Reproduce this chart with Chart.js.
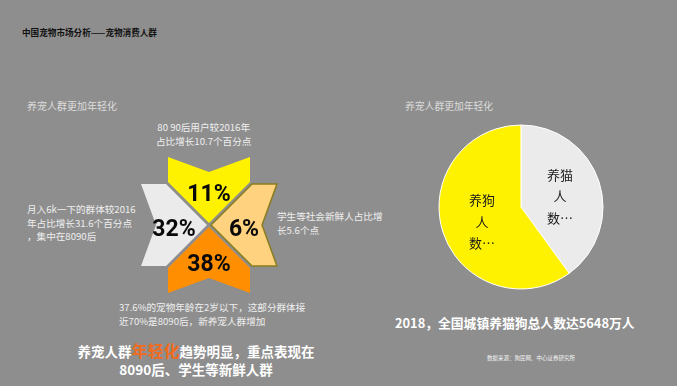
<!DOCTYPE html>
<html>
<head>
<meta charset="utf-8">
<script src="https://cdn.jsdelivr.net/npm/chart.js@4/dist/chart.umd.min.js"></script>
<style>
  body { margin: 0; }
  #page {
    position: relative; width: 677px; height: 386px; overflow: hidden;
    background: #8e8e8e; font-family: "Noto Sans CJK SC", "Noto Sans", sans-serif;
  }
  .t { position: absolute; white-space: pre; color: #eeeeee; }
  canvas { position: absolute; }
</style>
</head>
<body>
<div id="page">
  <div class="t" style="left:22px;top:26px;font-size:8.6px;font-weight:bold;color:#111;">中国宠物市场分析——宠物消费人群</div>
  <div class="t" style="left:27px;top:98px;font-size:10px;color:#dcdcdc;">养宠人群更加年轻化</div>
  <div class="t" style="left:405px;top:99px;font-size:9.8px;color:#dcdcdc;">养宠人群更加年轻化</div>

  <div class="t" style="left:156px;top:120px;font-size:9.6px;line-height:14px;text-align:center;">80 90后用户较2016年
占比增长10.7个百分点</div>
  <div class="t" style="left:27px;top:203px;font-size:9.6px;line-height:13.5px;">月入6k一下的群体较2016
年占比增长31.6个百分点
，集中在8090后</div>
  <div class="t" style="left:277px;top:209px;font-size:9.6px;line-height:14px;">学生等社会新鲜人占比增
长5.6个点</div>
  <div class="t" style="left:119px;top:300px;font-size:9.6px;line-height:14px;">37.6%的宠物年龄在2岁以下，这部分群体接
近70%是8090后，新养宠人群增加</div>

  <div class="t" style="left:60px;top:341px;width:272px;font-size:13.5px;line-height:18px;font-weight:bold;color:#fff;text-align:center;">养宠人群<span style="color:#f26b1d;font-size:16px;">年轻化</span>趋势明显，重点表现在
8090后、学生等新鲜人群</div>

  <div class="t" style="left:395px;top:313px;font-size:12.8px;font-weight:bold;color:#fff;">2018，全国城镇养猫狗总人数达5648万人</div>
  <div class="t" style="left:487px;top:354px;font-size:5.5px;color:#f4f4f4;">数据来源：狗民网、中心证券研究所</div>

  <canvas id="starChart" width="200" height="200" style="left:109px;top:125px;"></canvas>
  <canvas id="pieChart" width="200" height="200" style="left:421px;top:107px;"></canvas>
</div>
<script>
// 四个方向的人群占比（箭头图）
const starGroups = ["80 90后", "学生等社会新鲜人", "2岁以下宠物", "月入6k以下"];
const starShares = [11, 6, 38, 32];
const starColors = ["#fff200", "#ffd27f", "#ff8f00", "#ebebeb"];
const starBorders = [null, "#8a7d1e", null, null];
const starAngles = [0, 90, 180, 270]; // 箭头指向中心

// 养猫 / 养狗 人数占比（估读）
const pieLabels = ["养猫人数", "养狗人数"];
const pieShares = [40, 60];
const pieColors = ["#ebebeb", "#fff200"];

function arrowGlyph(fill, stroke) {
    const w = 82, h = 66, pad = 2;
    const c = document.createElement("canvas");
    c.width = w + pad * 2;
    c.height = h + pad * 2;
    const g = c.getContext("2d");
    g.translate(pad, pad);
    g.beginPath();
    g.moveTo(0, 0);
    g.lineTo(w / 2, 15);
    g.lineTo(w, 0);
    g.lineTo(w, 25);
    g.lineTo(w / 2, h);
    g.lineTo(0, 25);
    g.closePath();
    g.fillStyle = fill;
    g.fill();
    if (stroke) {
        g.strokeStyle = stroke;
        g.lineWidth = 1.5;
        g.stroke();
    }
    return c;
}

const starPoints = starAngles.map((a) => {
    const r = (a * Math.PI) / 180;
    return { x: 35 * Math.sin(r), y: 35 * Math.cos(r) };
});

const shareLabels = {
    id: "shareLabels",
    afterDatasetsDraw(chart) {
        const ctx = chart.ctx;
        const meta = chart.getDatasetMeta(0);
        ctx.save();
        ctx.font = "bold 23px Roboto, 'DejaVu Sans', sans-serif";
        ctx.fillStyle = "#0a0a0a";
        ctx.textAlign = "center";
        ctx.textBaseline = "middle";
        meta.data.forEach((pt, i) => {
            ctx.fillText(starShares[i] + "%", pt.x, pt.y + 5);
        });
        ctx.restore();
    },
};

new Chart(document.getElementById("starChart").getContext("2d"), {
    type: "scatter",
    data: {
        labels: starGroups,
        datasets: [
            {
                data: starPoints,
                pointStyle: starColors.map((c, i) => arrowGlyph(c, starBorders[i])),
                rotation: starAngles,
                radius: 40,
                clip: false,
            },
        ],
    },
    options: {
        responsive: false,
        animation: false,
        layout: { padding: 0, autoPadding: false },
        scales: {
            x: { display: false, min: -100, max: 100 },
            y: { display: false, min: -100, max: 100 },
        },
        plugins: { legend: { display: false }, tooltip: { enabled: false } },
    },
    plugins: [shareLabels],
});

const pieText = {
    id: "pieText",
    afterDatasetsDraw(chart) {
        const ctx = chart.ctx;
        const meta = chart.getDatasetMeta(0);
        ctx.save();
        ctx.font = "13px 'Noto Sans CJK SC', sans-serif";
        ctx.fillStyle = "#1a1a1a";
        ctx.textAlign = "center";
        ctx.textBaseline = "middle";
        meta.data.forEach((arc, i) => {
            const p = arc.tooltipPosition();
            const name = pieLabels[i];
            const lines = [name.slice(0, 2), name.slice(2, 3), name.slice(3) + "…"];
            lines.forEach((s, k) => {
                ctx.fillText(s, p.x, p.y + (k - 1) * 21.5 + 2);
            });
        });
        ctx.restore();
    },
};

new Chart(document.getElementById("pieChart").getContext("2d"), {
    type: "pie",
    data: {
        labels: pieLabels,
        datasets: [
            {
                data: pieShares,
                backgroundColor: pieColors,
                borderColor: "#ffffff",
                borderWidth: 1,
            },
        ],
    },
    options: {
        responsive: false,
        animation: false,
        radius: 82,
        layout: { padding: 0 },
        plugins: { legend: { display: false }, tooltip: { enabled: false } },
    },
    plugins: [pieText],
});
</script>
</body>
</html>
